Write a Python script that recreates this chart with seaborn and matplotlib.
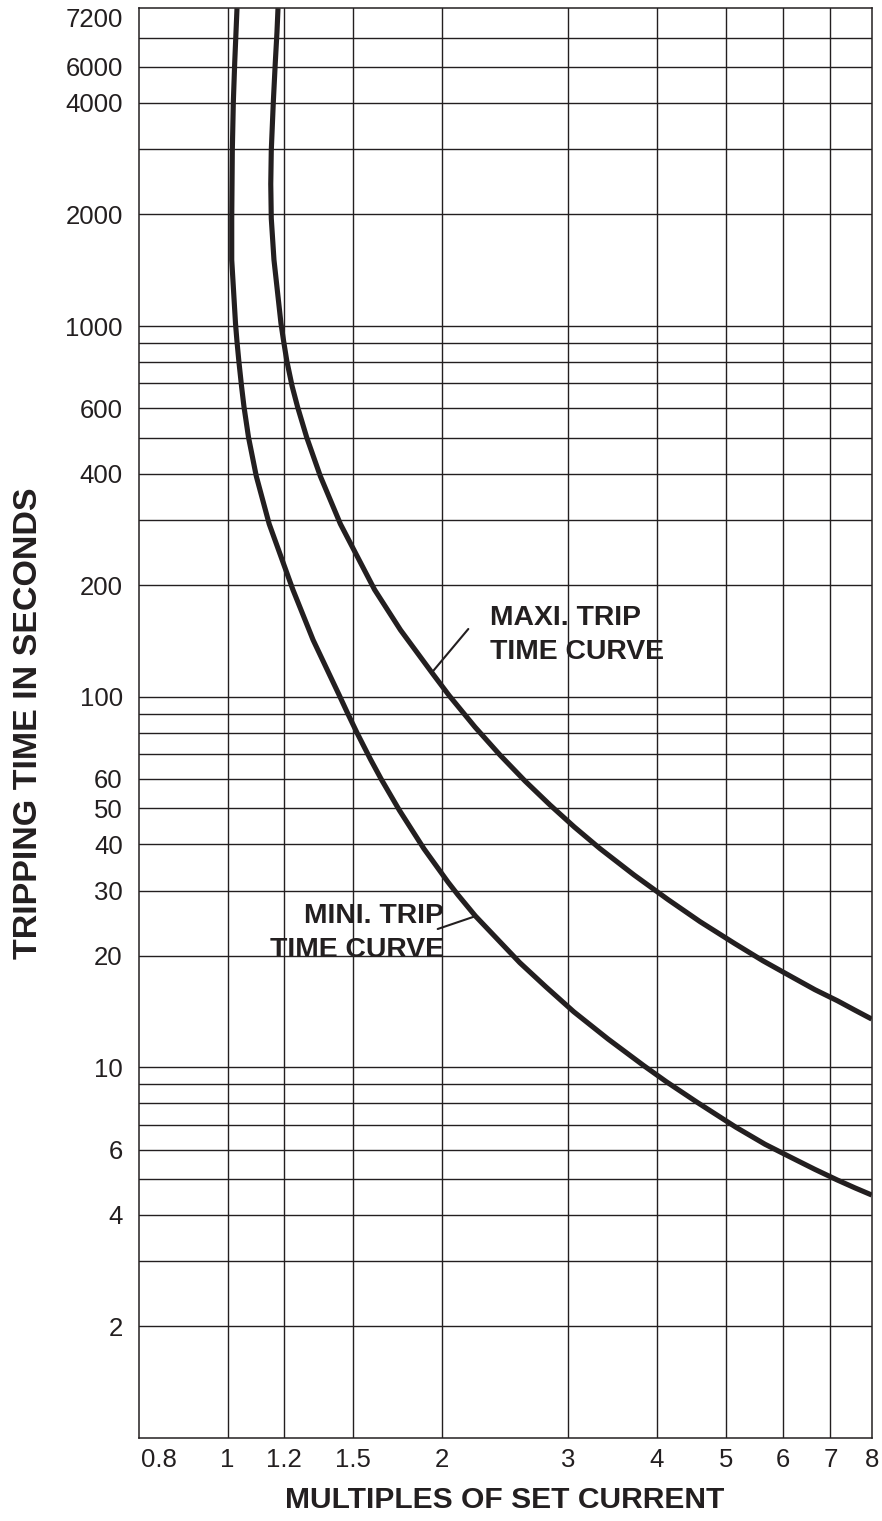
import numpy as np
import pandas as pd
import matplotlib
matplotlib.use("Agg")
import matplotlib.pyplot as plt
from matplotlib.ticker import FixedLocator, FixedFormatter, NullFormatter
import seaborn as sns

# ---- Trip-time characteristics: multiple of set current vs. tripping time (s) ----
mini_current = [1.0308, 1.0275, 1.0232, 1.0186, 1.0153, 1.0134, 1.0134, 1.0258, 1.0305,
                1.0368, 1.0459, 1.0544, 1.0698, 1.0971, 1.1437, 1.2347, 1.3178, 1.4351,
                1.4734, 1.5207, 1.5871, 1.6424, 1.7411, 1.8847, 2.0365, 2.1041, 2.2254,
                2.5686, 2.7953, 3.0568, 3.4141, 3.8344, 4.1270, 4.5618, 5.1622, 5.6695,
                6.1994, 6.6607, 7.1570, 7.5800, 8.0]
mini_time = [7200, 6215, 5136, 4006, 2972, 1953, 1508, 1017, 913,
             806.4, 689.0, 604.8, 501.1, 393.3, 292.4, 194.4, 142.3, 100.6,
             90.2, 79.47, 67.62, 59.87, 49.39, 38.90, 31.63, 29.18, 25.61,
             19.16, 16.48, 14.13, 11.93, 10.10, 9.132, 8.030, 6.892, 6.201,
             5.685, 5.305, 4.968, 4.729, 4.525]

maxi_current = [1.1767, 1.1728, 1.1664, 1.1589, 1.1514, 1.1495, 1.1514, 1.1615, 1.1880,
                1.1980, 1.2105, 1.2314, 1.2535, 1.2908, 1.3492, 1.4393, 1.6073, 1.7472,
                1.9452, 2.0457, 2.2226, 2.4094, 2.6121, 2.8317, 3.0628, 3.3273, 3.7143,
                4.1446, 4.5967, 5.1406, 5.6329, 6.1852, 6.6607, 7.1685, 7.5800, 8.0]
maxi_time = [7200, 6215, 5136, 4006, 2972, 2417, 1953, 1508, 1017,
             913, 806.4, 689.0, 604.8, 501.1, 393.3, 292.4, 194.4, 151.4,
             114.4, 100.6, 82.83, 69.62, 59.24, 51.04, 44.52, 38.93, 33.04,
             28.36, 24.72, 21.58, 19.38, 17.53, 16.20, 15.11, 14.26, 13.50]

# ---- Axis ticks and grid ----
x_tick_values = [0.8, 1, 1.2, 1.5, 2, 3, 4, 5, 6, 7, 8]
x_tick_labels = ["0.8", "1", "1.2", "1.5", "2", "3", "4", "5", "6", "7", "8"]
x_grid_values = [1, 1.2, 1.5, 2, 3, 4, 5, 6, 7]

y_tick_values = [2, 4, 6, 10, 20, 30, 40, 50, 60, 100, 200, 400, 600,
                 1000, 2000, 4000, 5000, 7200]
y_tick_labels = ["2", "4", "6", "10", "20", "30", "40", "50", "60", "100", "200",
                 "400", "600", "1000", "2000", "4000", "6000", "7200"]
y_grid_values = [m * 10 ** e for e in range(4) for m in range(1, 10)
                 if 2 <= m * 10 ** e <= 6000]

INK = "#231f20"

sns.set_theme(style="white")
plt.rcParams["font.family"] = ["Liberation Sans", "DejaVu Sans"]
plt.rcParams["text.color"] = INK

W, H = 882, 1521
fig = plt.figure(figsize=(W / 100, H / 100), dpi=100)
left, right, top, bottom = 138.5, 871.7, 8.3, 1438.0
ax = fig.add_axes([left / W, (H - bottom) / H, (right - left) / W, (bottom - top) / H])

df = pd.concat([
    pd.DataFrame({"current": mini_current, "time": mini_time, "curve": "mini"}),
    pd.DataFrame({"current": maxi_current, "time": maxi_time, "curve": "maxi"}),
], ignore_index=True)

sns.lineplot(data=df, x="current", y="time", hue="curve", estimator=None,
             sort=False, palette={"mini": INK, "maxi": INK}, linewidth=3.7,
             legend=False, ax=ax, zorder=3)
for ln in ax.get_lines():
    ln.set_solid_capstyle("butt")
    ln.set_solid_joinstyle("round")

ax.set_xscale("log")
ax.set_yscale("log")
ax.set_xlim(0.75, 8)
ax.set_ylim(1, 7200)

ax.xaxis.set_major_locator(FixedLocator(x_tick_values))
ax.xaxis.set_major_formatter(FixedFormatter(x_tick_labels))
ax.xaxis.set_minor_locator(FixedLocator(x_grid_values))
ax.xaxis.set_minor_formatter(NullFormatter())
ax.yaxis.set_major_locator(FixedLocator(y_tick_values))
ax.yaxis.set_major_formatter(FixedFormatter(y_tick_labels))
ax.yaxis.set_minor_locator(FixedLocator(y_grid_values))
ax.yaxis.set_minor_formatter(NullFormatter())
# keep grid lines even where they share a position with a labelled tick
ax.xaxis.remove_overlapping_locs = False
ax.yaxis.remove_overlapping_locs = False

ax.grid(False)
ax.grid(which="minor", axis="both", color=INK, linewidth=1.0)
ax.set_axisbelow(True)
ax.tick_params(which="both", length=0, colors=INK, labelsize=18.5)
ax.tick_params(axis="x", pad=7)
ax.tick_params(axis="y", pad=11.4)
for sp in ax.spines.values():
    sp.set_visible(True)
    sp.set_color(INK)
    sp.set_linewidth(1.1)

for lab in ax.get_yticklabels():
    if lab.get_text() == "7200":
        lab.set_va("top")

ax.set_xlabel("MULTIPLES OF SET CURRENT", fontsize=21.6, fontweight="bold",
              color=INK, labelpad=10)
ax.set_ylabel("TRIPPING TIME IN SECONDS", fontsize=24.5, fontweight="bold",
              color=INK, labelpad=15)

# Curve captions with leader lines
ax.text(2.3327, 126.4, "MAXI. TRIP\nTIME CURVE", ha="left", va="baseline",
        fontsize=20.4, fontweight="bold", color=INK, linespacing=1.4, zorder=4)
ax.annotate("", xy=(1.9315, 115.9), xytext=(2.1751, 152.3),
            arrowprops=dict(arrowstyle="-", color=INK, lw=1.5,
                            shrinkA=0, shrinkB=0), zorder=4)

ax.text(2.0129, 19.88, "MINI. TRIP\nTIME CURVE", ha="right", va="baseline",
        multialignment="right", fontsize=20.4, fontweight="bold", color=INK,
        linespacing=1.4, zorder=4)
ax.annotate("", xy=(2.2298, 25.61), xytext=(1.9705, 23.62),
            arrowprops=dict(arrowstyle="-", color=INK, lw=1.5,
                            shrinkA=0, shrinkB=0), zorder=4)

fig.savefig("out.png", dpi=100, facecolor="white")
